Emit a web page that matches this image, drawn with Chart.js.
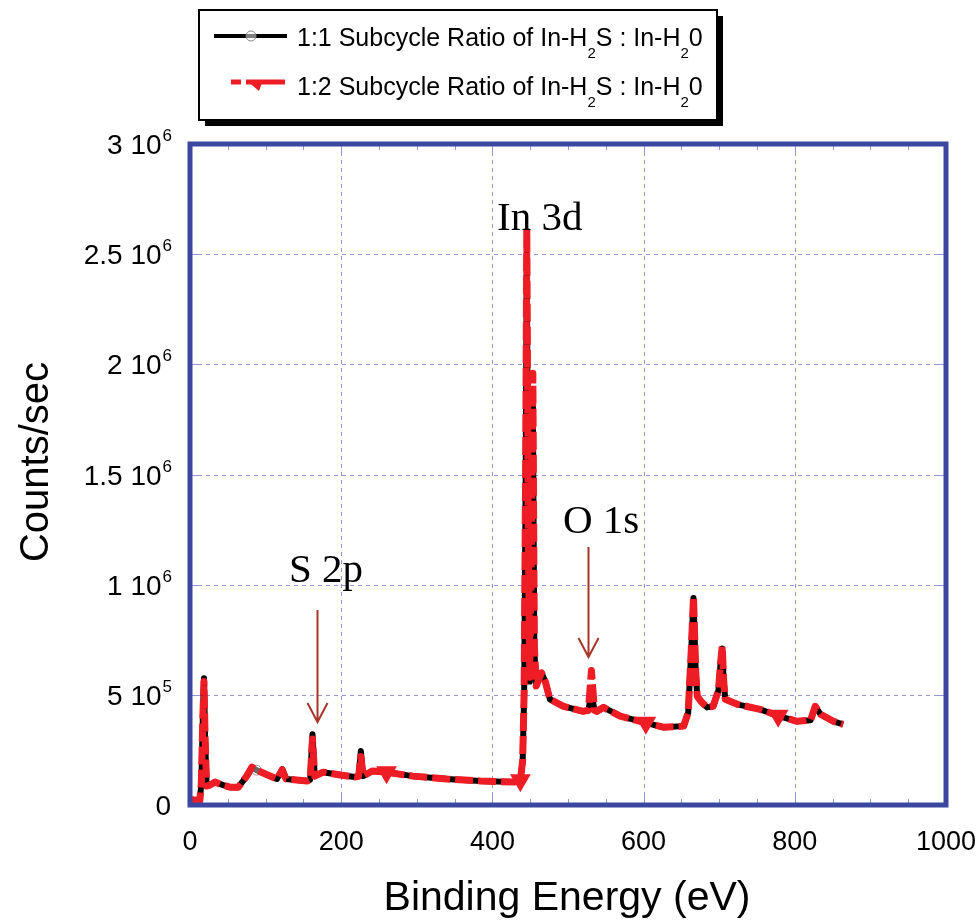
<!DOCTYPE html>
<html>
<head>
<meta charset="utf-8">
<script src="https://cdn.jsdelivr.net/npm/chart.js@4"></script>
<style>
	body { margin: 0; background: #fff; }
	#wrap { width: 979px; height: 920px; }
</style>
</head>
<body>
<div id="wrap"><canvas id="myChart" width="979" height="920"></canvas></div>
<script>
const energy = [0, 8, 13, 15, 17, 18.5, 20, 22, 26, 33, 44, 53, 64, 75, 82, 88, 115, 122, 127, 155, 159, 162, 165, 176, 199, 218, 223, 226, 229, 241, 260, 295, 340, 384, 428, 437, 440, 442, 444, 445.5, 447.5, 449.5, 452, 453.5, 455.5, 458, 462, 465, 470, 476, 494, 520, 527, 531, 535, 538, 547, 569, 603, 626, 653, 659, 663, 666, 669, 671, 677, 684, 692, 699, 702, 704, 706, 708, 724, 754, 778, 803, 821, 827, 834, 851, 864];
const counts11 = [25000, 22000, 20000, 100000, 400000, 575000, 300000, 86000, 90000, 104000, 90000, 81000, 81000, 131000, 172000, 158000, 118000, 163000, 118000, 109000, 115000, 321000, 131000, 149000, 136000, 127000, 130000, 245000, 131000, 154000, 149000, 131000, 118000, 109000, 104000, 115000, 200000, 500000, 1500000, 2500000, 1150000, 560000, 1250000, 1850000, 700000, 540000, 575000, 600000, 560000, 480000, 448000, 425000, 430000, 510000, 430000, 425000, 443000, 403000, 373000, 353000, 358000, 420000, 700000, 940000, 600000, 493000, 466000, 443000, 448000, 520000, 650000, 710000, 560000, 480000, 457000, 434000, 405000, 380000, 385000, 448000, 412000, 380000, 366000];
const counts12 = [25000, 22000, 20000, 100000, 400000, 560000, 300000, 86000, 90000, 104000, 90000, 81000, 81000, 131000, 172000, 158000, 118000, 160000, 118000, 109000, 115000, 300000, 131000, 149000, 136000, 127000, 130000, 220000, 131000, 154000, 149000, 131000, 118000, 109000, 104000, 112000, 200000, 520000, 1550000, 2610000, 1200000, 580000, 1300000, 1960000, 720000, 540000, 575000, 600000, 560000, 480000, 448000, 425000, 430000, 610000, 430000, 425000, 443000, 403000, 373000, 353000, 358000, 420000, 700000, 946000, 600000, 493000, 466000, 443000, 448000, 520000, 650000, 720000, 560000, 480000, 457000, 434000, 405000, 380000, 385000, 448000, 412000, 380000, 366000];
const markers11 = [88, 260, 603, 778];
const markers12 = [260, 437, 603, 778];

const xTicks = [0, 200, 400, 600, 800, 1000];
const yTicks = [0, 500000, 1000000, 1500000, 2000000, 2500000, 3000000];
const yTickMant = ["0", "5", "1", "1.5", "2", "2.5", "3"];
const yTickExp = ["", "5", "6", "6", "6", "6", "6"];

const serieLabel = ["1:1 Subcycle Ratio of In-H", "2", "S : In-H", "2", "0"];
const serieLabel2 = ["1:2 Subcycle Ratio of In-H", "2", "S : In-H", "2", "0"];

const picos = ["In 3d", "S 2p", "O 1s"];

/* ---------- estilos ---------- */
const AZUL = "#3b479f";
const GRID = "#9494d4";
const ROJO = "#ee1c24";
const FLECHA = "#a8372a";
const SANS = "'Liberation Sans', Arial, sans-serif";
const SERIF = "'Liberation Serif', 'Times New Roman', serif";

function texto(c, partes, x, y, size, subSize) {
	// dibuja texto con subindices (partes impares)
	let cx = x;
	partes.forEach((p, i) => {
		if (i % 2 === 1) {
			c.font = subSize + "px " + SANS;
			c.fillText(p, cx, y + 12);
		} else {
			c.font = size + "px " + SANS;
			c.fillText(p, cx, y);
		}
		cx += c.measureText(p).width;
	});
}

const marco = {
	id: "marco",
	beforeDatasetsDraw(chart) {
		const c = chart.ctx;
		const a = chart.chartArea;
		const sx = chart.scales.x, sy = chart.scales.y;
		c.save();
		c.strokeStyle = GRID;
		c.lineWidth = 1;
		c.setLineDash([4, 4]);
		xTicks.forEach(v => {
			const px = Math.round(sx.getPixelForValue(v)) + 0.5;
			if (v === 0 || v === 1000) return;
			c.beginPath(); c.moveTo(px, a.top); c.lineTo(px, a.bottom); c.stroke();
		});
		yTicks.forEach(v => {
			const py = Math.round(sy.getPixelForValue(v)) + 0.5;
			if (v === 0 || v === 3000000) return;
			c.beginPath(); c.moveTo(a.left, py); c.lineTo(a.right, py); c.stroke();
		});
		c.setLineDash([]);
		// marcas menores cada 50 eV
		for (let v = 50; v < 1000; v += 50) {
			const px = Math.round(sx.getPixelForValue(v)) + 0.5;
			const len = v % 200 === 0 ? 10 : 6;
			c.beginPath();
			c.moveTo(px, a.bottom); c.lineTo(px, a.bottom - len);
			c.moveTo(px, a.top); c.lineTo(px, a.top + len);
			c.stroke();
		}
		yTicks.forEach(v => {
			const py = Math.round(sy.getPixelForValue(v)) + 0.5;
			c.beginPath();
			c.moveTo(a.left, py); c.lineTo(a.left + 10, py);
			c.moveTo(a.right, py); c.lineTo(a.right - 10, py);
			c.stroke();
		});
		c.restore();
	},
	afterDatasetsDraw(chart) {
		const c = chart.ctx;
		const a = chart.chartArea;
		c.save();
		c.strokeStyle = AZUL;
		c.lineWidth = 5;
		c.strokeRect(a.left, a.top, a.right - a.left, a.bottom - a.top);
		c.restore();
	},
	afterDraw(chart) {
		const c = chart.ctx;
		const sx = chart.scales.x, sy = chart.scales.y;
		c.save();
		c.fillStyle = "#000";
		c.textBaseline = "alphabetic";

		// etiquetas eje x
		c.font = "27px " + SANS;
		c.textAlign = "center";
		xTicks.forEach(v => c.fillText(String(v), sx.getPixelForValue(v), 850));

		// etiquetas eje y con exponente
		c.textAlign = "left";
		yTicks.forEach((v, i) => {
			const py = sy.getPixelForValue(v);
			const base = py + 10;
			let txt = yTickMant[i];
			if (yTickExp[i]) txt += " 10";
			c.font = "28px " + SANS;
			const w1 = c.measureText(txt).width;
			c.font = "17px " + SANS;
			const w2 = yTickExp[i] ? c.measureText(yTickExp[i]).width : 0;
			const x0 = 171 - w1 - w2;
			c.font = "28px " + SANS;
			c.fillText(txt, x0, base);
			if (yTickExp[i]) {
				c.font = "17px " + SANS;
				c.fillText(yTickExp[i], x0 + w1 + 1, base - 13);
			}
		});

		// titulos de ejes
		c.font = "41px " + SANS;
		c.textAlign = "center";
		c.fillText("Binding Energy (eV)", 567, 910);
		c.save();
		c.translate(48, 462);
		c.rotate(-Math.PI / 2);
		c.font = "40px " + SANS;
		c.fillText("Counts/sec", 0, 0);
		c.restore();

		// leyenda
		c.fillStyle = "#000";
		c.fillRect(205, 16, 518, 110);
		c.fillStyle = "#fff";
		c.fillRect(199, 10, 518, 110);
		c.strokeStyle = "#000";
		c.lineWidth = 2;
		c.strokeRect(199, 10, 518, 110);
		c.lineWidth = 4;
		c.beginPath(); c.moveTo(214, 36); c.lineTo(287, 36); c.stroke();
		c.strokeStyle = "#888";
		c.lineWidth = 1;
		c.fillStyle = "rgba(255,255,255,0.5)";
		c.beginPath(); c.arc(251, 36, 5, 0, Math.PI * 2); c.fill(); c.stroke();
		c.strokeStyle = ROJO;
		c.lineWidth = 5;
		c.beginPath(); c.moveTo(231, 82); c.lineTo(241, 82); c.moveTo(246, 82); c.lineTo(285, 82); c.stroke();
		c.fillStyle = ROJO;
		c.beginPath(); c.moveTo(246, 80); c.lineTo(263, 80); c.lineTo(259, 91); c.closePath(); c.fill();
		c.fillStyle = "#000";
		c.textAlign = "left";
		texto(c, serieLabel, 297, 46, 25, 15);
		texto(c, serieLabel2, 297, 95, 25, 15);

		// anotaciones de picos
		c.font = "41px " + SERIF;
		c.fillText(picos[0], 497, 230);
		c.fillText(picos[1], 289, 582);
		c.fillText(picos[2], 563, 533);

		// flechas
		c.strokeStyle = FLECHA;
		c.lineWidth = 2;
		const flecha = (e, y0, y1) => {
			const x = Math.round(sx.getPixelForValue(e)) + 0.5;
			c.beginPath();
			c.moveTo(x, y0); c.lineTo(x, y1);
			c.moveTo(x - 10, y1 - 19); c.lineTo(x, y1); c.lineTo(x + 10, y1 - 19);
			c.stroke();
		};
		flecha(168, 610, 722);
		flecha(527, 547, 657);
		c.restore();
	},
};

/*################################ GRAFICO ################################*/
const ctx = document.getElementById("myChart").getContext("2d");
let myChart = new Chart(ctx, {
	type: "line",
	data: {
		datasets: [
			{
				label: "1:1 Subcycle Ratio of In-H2S : In-H20",
				data: energy.map((e, i) => ({ x: e, y: counts11[i] })),
				borderColor: "#000",
				borderWidth: 6,
				borderJoinStyle: "round",
				pointStyle: "circle",
				pointRadius: c => (markers11.includes(energy[c.dataIndex]) ? 5 : 0),
				pointBorderColor: "#999",
				pointBackgroundColor: "rgba(255,255,255,0.4)",
				pointBorderWidth: 1,
				tension: 0,
				order: 1,
			},
			{
				label: "1:2 Subcycle Ratio of In-H2S : In-H20",
				data: energy.map((e, i) => ({ x: e, y: counts12[i] })),
				borderColor: ROJO,
				borderWidth: 7,
				borderDash: [18, 5],
				borderJoinStyle: "round",
				pointStyle: "triangle",
				rotation: 180,
				pointRadius: c => (markers12.includes(energy[c.dataIndex]) ? 5 : 0),
				pointBorderColor: ROJO,
				pointBackgroundColor: ROJO,
				tension: 0,
				order: 0,
			},
		],
	},
	options: {
		responsive: false,
		animation: false,
		devicePixelRatio: 1,
		layout: { padding: { top: 144, right: 33, left: 0, bottom: 0 } },
		plugins: { legend: { display: false }, tooltip: { enabled: false } },
		scales: {
			x: {
				type: "linear",
				min: 0,
				max: 1000,
				ticks: { display: false, stepSize: 200 },
				grid: { display: false },
				border: { display: false },
				afterFit: s => { s.height = 115; },
			},
			y: {
				min: 0,
				max: 3000000,
				ticks: { display: false, stepSize: 500000 },
				grid: { display: false },
				border: { display: false },
				afterFit: s => { s.width = 190; },
			},
		},
	},
	plugins: [marco],
});
</script>
</body>
</html>
